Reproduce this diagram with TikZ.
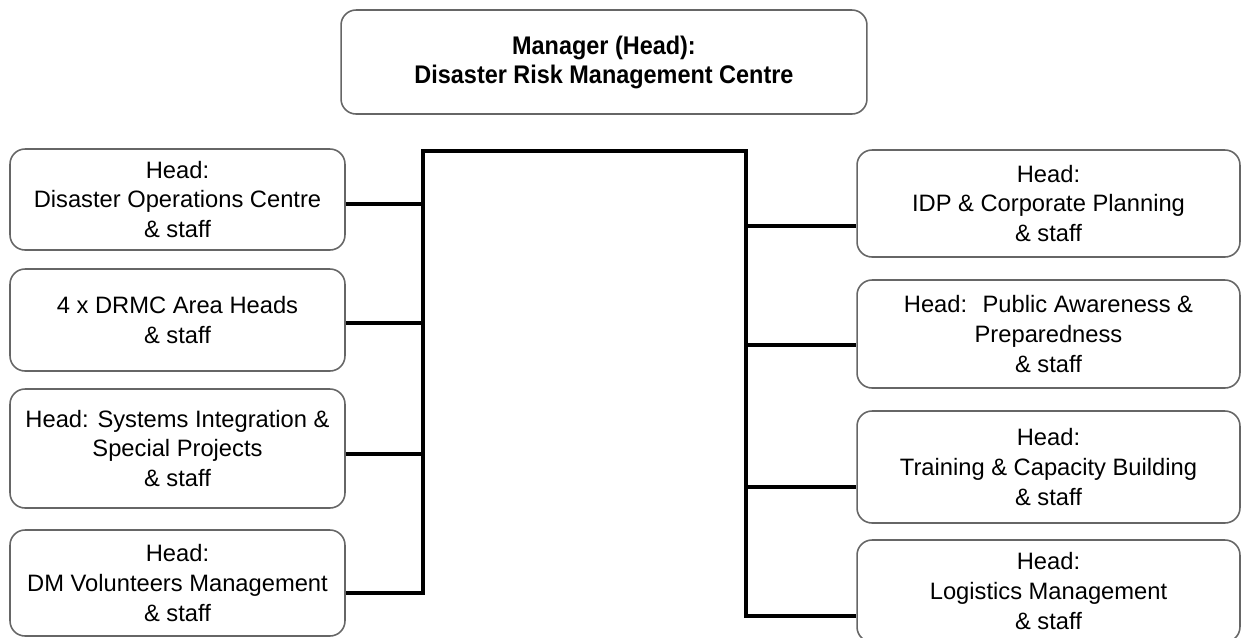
\documentclass[tikz,border=0pt]{standalone}
\usepackage{fontspec}
\setmainfont{Liberation Sans}
\newfontfamily\mgrfont[FakeStretch=0.92]{Liberation Sans}
\begin{document}
\begin{tikzpicture}[x=0.02cm, y=-0.02cm,
    box/.style={draw=black!60, line width=0.9pt, rounded corners=0.3cm, align=center, inner sep=2pt, font=\fontsize{13.5}{16.8}\selectfont},
    lbox/.style={box, minimum width=6.7cm},
    rbox/.style={box, minimum width=7.66cm},
    bus/.style={line width=2.1pt, black}
]
    \useasboundingbox (0,0) rectangle (1242,637);

    % Manager
    \node[box, minimum width=10.52cm, minimum height=2.08cm, font=\mgrfont\bfseries\fontsize{14.5}{16.5}\selectfont] (mgr) at (604,62) {Manager (Head):\\Disaster Risk Management Centre};

    % Left column
    \node[lbox, minimum height=2.02cm] (doc) at (177.5,199.5) {Head:\\Disaster Operations Centre\\\& staff};
    \node[lbox, minimum height=2.04cm] (area) at (177.5,320) {4 x DRMC Area Heads\\\& staff};
    \node[lbox, minimum height=2.38cm] (sys) at (177.5,448.5) {Head: Systems Integration \&\\Special Projects\\\& staff};
    \node[lbox, minimum height=2.12cm] (vol) at (177.5,583) {Head:\\DM Volunteers Management\\\& staff};

    % Right column
    \node[rbox, minimum height=2.14cm] (idp) at (1048.5,203.5) {Head:\\IDP \& Corporate Planning\\\& staff};
    \node[rbox, minimum height=2.16cm] (pap) at (1048.5,334) {Head:~ Public Awareness \&\\Preparedness\\\& staff};
    \node[rbox, minimum height=2.24cm] (tcb) at (1048.5,467) {Head:\\Training \& Capacity Building\\\& staff};
    \node[rbox, minimum height=2.04cm] (log) at (1048.5,591) {Head:\\Logistics Management\\\& staff};

    % Bus
    \coordinate (lt) at (423,151);
    \coordinate (rt) at (746,151);
    \coordinate (l1) at (423,204);
    \coordinate (l2) at (423,323);
    \coordinate (l3) at (423,454);
    \coordinate (l4) at (423,593);
    \coordinate (r1) at (746,226);
    \coordinate (r2) at (746,345);
    \coordinate (r3) at (746,487);
    \coordinate (r4) at (746,616);
    \draw[bus] (vol.east |- l4) -- (l4) -- (lt) -- (rt) -- (r4) -- (log.west |- r4);

    % Branches
    \draw[bus] (doc.east |- l1) -- (l1);
    \draw[bus] (area.east |- l2) -- (l2);
    \draw[bus] (sys.east |- l3) -- (l3);
    \draw[bus] (r1) -- (idp.west |- r1);
    \draw[bus] (r2) -- (pap.west |- r2);
    \draw[bus] (r3) -- (tcb.west |- r3);
\end{tikzpicture}
\end{document}
